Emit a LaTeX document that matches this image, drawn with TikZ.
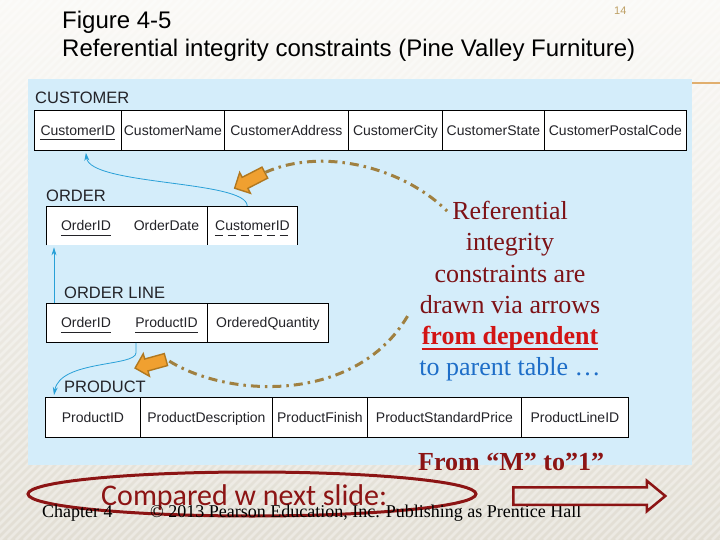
\documentclass[tikz,border=0pt]{standalone}
\usepackage{fontspec}
\setmainfont{Liberation Serif}
\newfontfamily\arialf{Liberation Sans}
\newfontfamily\calibrif{Carlito}
\usetikzlibrary{arrows.meta,shapes.arrows,shapes.geometric}
\definecolor{bgtop}{RGB}{250,249,246}
\definecolor{bgbot}{RGB}{226,222,212}
\definecolor{panelblue}{RGB}{212,237,250}
\definecolor{tabtext}{RGB}{35,35,40}
\definecolor{fkblue}{RGB}{40,160,215}
\definecolor{orangefill}{RGB}{240,160,48}
\definecolor{orangedark}{RGB}{176,120,32}
\definecolor{goldbrown}{RGB}{160,128,64}
\definecolor{maroon}{RGB}{125,18,22}
\definecolor{brightred}{RGB}{210,20,20}
\definecolor{textblue}{RGB}{30,110,200}
\definecolor{darkred}{RGB}{140,20,20}
\definecolor{pagetan}{RGB}{190,160,100}
\definecolor{tanline}{RGB}{225,175,110}
\begin{document}
\begin{tikzpicture}[x=1pt,y=-1pt,
  titletext/.style={anchor=base west, inner sep=0pt, font=\arialf\fontsize{24}{28}\selectfont, text=black},
  lbl/.style={anchor=base west, inner sep=0pt, font=\arialf\fontsize{16.5}{18}\selectfont, text=tabtext},
  cell/.style={draw=black, line width=0.8pt, fill=white, minimum height=40pt, inner sep=0pt, anchor=north west},
  opencell/.style={fill=white, minimum height=39pt, inner sep=0pt, anchor=north west},
  tableline/.style={draw=black, line width=0.8pt},
  field/.style={anchor=base, inner sep=0pt, font=\arialf\fontsize{14}{16}\selectfont, text=tabtext},
  pkline/.style={draw=tabtext, line width=0.7pt},
  fkline/.style={draw=tabtext, line width=0.7pt, dash pattern=on 8pt off 5pt},
  fk/.style={draw=fkblue, line width=0.8pt, -{Stealth[length=8pt,width=5pt]}},
  blockarr/.style={single arrow, draw=orangedark, fill=orangefill, line width=1.4pt, minimum width=22pt, inner sep=5.5pt, single arrow head extend=5.5pt, single arrow head indent=0pt},
  ddash/.style={draw=goldbrown, line width=3pt, dash pattern=on 9pt off 5pt on 2.5pt off 5pt},
  redline/.style={anchor=base, inner sep=0pt, font=\fontsize{26}{31}\selectfont, text=maroon},
  stripe/.style={draw=white, line width=2.5pt, opacity=0.35}
]
\useasboundingbox (0,0) rectangle (720,540);
\shade[top color=bgtop, bottom color=bgbot] (0,0) rectangle (720,540);
\begin{scope}
\clip (0,0) rectangle (720,540);
\foreach \i in {-560,-552,...,720} { \draw[stripe] (\i,540) -- ++(540,-540); }
\end{scope}
\fill[panelblue] (28,79) rectangle (692,465);
\draw[tanline, line width=1.5pt] (692,83) -- (720,83);

% title
\node[titletext] (t1) at (62,29) {Figure 4-5};
\node[titletext] (t2) at (62,57) {Referential integrity constraints (Pine Valley Furniture)};
\node[anchor=base west, inner sep=0pt, font=\arialf\fontsize{11}{13}\selectfont, text=pagetan] (pg) at (614,15) {14};

% CUSTOMER
\node[lbl] (lc) at (35,104) {CUSTOMER};
\node[cell, minimum width=87pt]  (c1) at (34,110) {};
\node[cell, minimum width=103pt] (c2) at (121,110) {};
\node[cell, minimum width=124pt] (c3) at (224,110) {};
\node[cell, minimum width=94pt]  (c4) at (348,110) {};
\node[cell, minimum width=102pt] (c5) at (442,110) {};
\node[cell, minimum width=142pt] (c6) at (544,110) {};
\node[field] (c1t) at ([yshift=-5pt]c1.center) {CustomerID};
\node[field] (c2t) at ([yshift=-5pt]c2.center) {CustomerName};
\node[field] (c3t) at ([yshift=-5pt]c3.center) {CustomerAddress};
\node[field] (c4t) at ([yshift=-5pt]c4.center) {CustomerCity};
\node[field] (c5t) at ([yshift=-5pt]c5.center) {CustomerState};
\node[field] (c6t) at ([yshift=-5pt]c6.center) {CustomerPostalCode};
\draw[pkline] ([yshift=-4pt]c1t.base west) -- ([yshift=-4pt]c1t.base east);

% ORDER
\node[lbl] (lo) at (46,202) {ORDER};
\node[opencell, minimum width=161pt] (o1) at (46,206) {};
\node[opencell, minimum width=90pt]  (o2) at (207,206) {};
\draw[tableline] (o1.south west) -- (o1.north west) -- (o2.north east) -- (o2.south east);
\draw[tableline] (o2.north west) -- (o2.south west);
\node[field] (o1a) at (86,230.5) {OrderID};
\node[field] (o1b) at (166.5,230.5) {OrderDate};
\node[field] (o2t) at (252.5,230.5) {CustomerID};
\draw[pkline] ([yshift=-5pt]o1a.base west) -- ([yshift=-5pt]o1a.base east);
\draw[fkline] ([yshift=-5pt]o2t.base west) -- ([yshift=-5pt]o2t.base east);

% ORDER LINE
\node[lbl] (lol) at (64,298) {ORDER LINE};
\node[cell, minimum width=161pt, minimum height=39pt] (ol1) at (46,303) {};
\node[cell, minimum width=121pt, minimum height=39pt] (ol2) at (207,303) {};
\node[field] (ol1a) at (86,327.5) {OrderID};
\node[field] (ol1b) at (166.5,327.5) {ProductID};
\node[field] (ol2t) at ([yshift=-5pt]ol2.center) {OrderedQuantity};
\draw[pkline] ([yshift=-5pt]ol1a.base west) -- ([yshift=-5pt]ol1a.base east);
\draw[pkline] ([yshift=-5pt]ol1b.base west) -- ([yshift=-5pt]ol1b.base east);

% PRODUCT
\node[lbl] (lp) at (64,392) {PRODUCT};
\node[cell, minimum width=95pt]  (p1) at (45,397) {};
\node[cell, minimum width=132pt] (p2) at (140,397) {};
\node[cell, minimum width=95pt]  (p3) at (272,397) {};
\node[cell, minimum width=154pt] (p4) at (367,397) {};
\node[cell, minimum width=107pt] (p5) at (521,397) {};
\node[field] (p1t) at ([yshift=-5pt]p1.center) {ProductID};
\node[field] (p2t) at ([yshift=-5pt]p2.center) {ProductDescription};
\node[field] (p3t) at ([yshift=-5pt]p3.center) {ProductFinish};
\node[field] (p4t) at ([yshift=-5pt]p4.center) {ProductStandardPrice};
\node[field] (p5t) at ([yshift=-5pt]p5.center) {ProductLineID};

% referential integrity arrows
\draw[fk] ([xshift=-5pt]o2.north) .. controls +(0,-26) and +(4,33) .. ([xshift=8pt,yshift=-2pt]c1.south);
\draw[fk] ([xshift=8pt]ol1.north west) -- ([xshift=8pt,yshift=-2pt]o1.south west);
\draw[fk] ([xshift=90pt]ol1.south west) -- ++(0,10) .. controls +(0,14) and +(6,-35) .. ([xshift=9pt,yshift=2pt]p1.north west);

% annotation text
\node[redline] (rt1) at (510,220) {Referential};
\node[redline] (rt2) at (510,251) {integrity};
\node[redline] (rt3) at (510,282) {constraints are};
\node[redline] (rt4) at (510,313) {drawn via arrows};
\node[redline, text=brightred, font=\bfseries\fontsize{26}{31}\selectfont] (rt5) at (510,344) {from dependent};
\node[redline, text=textblue] (rt6) at (510,375) {to parent table …};
\draw[draw=brightred, line width=2pt] ([yshift=-5pt]rt5.base west) -- ([yshift=-5pt]rt5.base east);

% orange block arrows and dash-dot leaders
\node[blockarr, minimum height=34pt, rotate=207.3] (ob1) at (252.5,179) {};
\node[blockarr, minimum height=32pt, rotate=195.4] (ob2) at (153.5,363) {};
\draw[ddash] (ob1.tail) .. controls (320,148) and (400,165) .. ([xshift=-5pt]rt1.west);
\draw[ddash] ([shift={(-12,12)}]rt4.west) .. controls (355,405) and (225,398) .. (ob2.tail);

\node[anchor=base west, inner sep=0pt, font=\bfseries\fontsize{26}{30}\selectfont, text=darkred] (mto1) at (418,470) {From “M” to”1”};

% bottom
\node[draw=darkred, line width=3pt, ellipse, minimum width=448pt, minimum height=44pt, inner sep=0pt] (ell) at (252,494) {};
\node[anchor=base west, inner sep=0pt, font=\calibrif\fontsize{30}{34}\selectfont, text=darkred] (cmp) at (101,505) {Compared w next slide:};
\node[anchor=base west, inner sep=0pt, font=\fontsize{18}{20}\selectfont, text=black] (ch) at (42,517) {Chapter 4};
\node[anchor=base west, inner sep=0pt, font=\fontsize{18}{20}\selectfont, text=black] (cp) at (150,517) {© 2013 Pearson Education, Inc. Publishing as Prentice Hall};
\node[single arrow, draw=darkred, line width=2.5pt, minimum height=152pt, minimum width=28pt, inner xsep=0pt, inner ysep=7.5pt, single arrow head extend=6.5pt, single arrow tip angle=79] (ra) at (584,496) {};
\end{tikzpicture}
\end{document}
